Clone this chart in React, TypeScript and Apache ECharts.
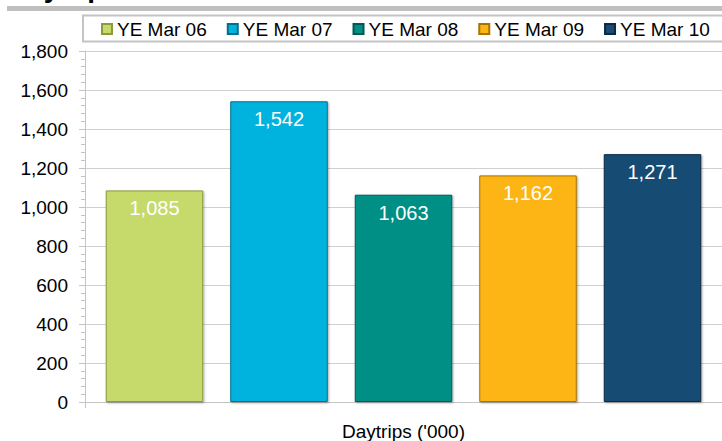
import React, { useEffect, useRef } from "react";
import * as echarts from "echarts";

const categories = ["Daytrips ('000)"];
const seriesNames = ["YE Mar 06", "YE Mar 07", "YE Mar 08", "YE Mar 09", "YE Mar 10"];
const seriesValues = [1085, 1542, 1063, 1162, 1271];
const seriesColors = ["#c6da6c", "#00b3df", "#008f85", "#fdb516", "#184c73"];
const borderColors = ["#8a9a3c", "#006f8c", "#005a53", "#a87400", "#0c2a42"];
const yTicks = [0, 200, 400, 600, 800, 1000, 1200, 1400, 1600, 1800];

const FONT = "'Liberation Sans', Arial, sans-serif";
const fmt = (v: number) => String(v).replace(/\B(?=(\d{3})+(?!\d))/g, ",");

export default function App() {
  const ref = useRef<HTMLDivElement>(null);
  useEffect(() => {
    if (!ref.current) return;
    const chart = echarts.init(ref.current, null, { renderer: "svg" });
    chart.setOption({
      animation: false,
      backgroundColor: "#ffffff",
      textStyle: { fontFamily: FONT },
      graphic: [
        {
          type: "text",
          x: 8,
          y: -13,
          style: {
            text: "Daytrips",
            font: "bold 28px " + FONT,
            fill: "#000",
            textVerticalAlign: "middle",
          },
        },
        {
          type: "rect",
          shape: { x: 7, y: 6, width: 720, height: 5 },
          style: { fill: "#bfbfbf" },
        },
        {
          type: "rect",
          shape: { x: 83, y: 15.5, width: 660, height: 26 },
          style: { fill: "#ffffff", stroke: "#c4c4c4", lineWidth: 2 },
          z: -1,
        },
      ],
      legend: {
        left: 101,
        top: 19,
        padding: 0,
        itemWidth: 10,
        itemHeight: 10,
        itemGap: 20,
        icon: "rect",
        textStyle: { fontSize: 19, color: "#000", fontFamily: FONT, lineHeight: 20 },
        data: seriesNames,
      },
      grid: { left: 85, right: -4, top: 51, bottom: 37, containLabel: false },
      xAxis: {
        type: "category",
        data: categories,
        axisLine: { show: true, lineStyle: { color: "#c4c4c4", width: 1 } },
        axisTick: { show: true, length: 6, lineStyle: { color: "#c4c4c4" } },
        axisLabel: { fontSize: 19, color: "#000", margin: 20, fontFamily: FONT },
      },
      yAxis: {
        type: "value",
        min: 0,
        max: 1800,
        interval: 200,
        axisLine: { show: true, lineStyle: { color: "#c4c4c4", width: 1 } },
        axisTick: { show: true, length: 6, lineStyle: { color: "#c4c4c4" } },
        minorTick: { show: true, splitNumber: 5, length: 4, lineStyle: { color: "#c4c4c4" } },
        splitLine: { show: true, lineStyle: { color: "#d0d0d0", width: 1 } },
        axisLabel: {
          fontSize: 19,
          color: "#000",
          margin: 17,
          fontFamily: FONT,
          formatter: (v: number) => (yTicks.includes(v) ? fmt(v) : ""),
        },
      },
      series: seriesNames.map((name, i) => ({
        name,
        type: "bar",
        data: [seriesValues[i]],
        barWidth: 97.5,
        barGap: "27.7%",
        itemStyle: {
          color: seriesColors[i],
          borderColor: borderColors[i],
          borderWidth: 1,
          shadowColor: "rgba(0,0,0,0.35)",
          shadowBlur: 2,
          shadowOffsetX: 1,
          shadowOffsetY: 1,
        },
        label: {
          show: true,
          position: "insideTop",
          distance: 8,
          color: "#ffffff",
          fontSize: 20,
          fontFamily: FONT,
          formatter: (p: any) => fmt(p.value),
        },
      })),
    });
    return () => chart.dispose();
  }, []);
  return <div ref={ref} style={{ width: 722, height: 441, position: "absolute", left: 0, top: 0 }} />;
}
